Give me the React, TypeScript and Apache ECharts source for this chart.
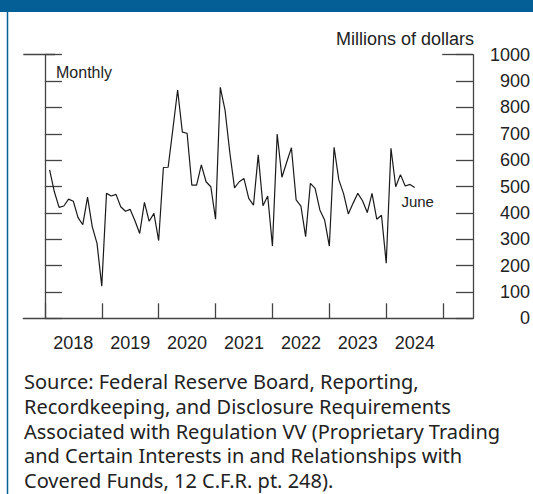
import React, { useEffect, useRef } from "react";
import * as echarts from "echarts";

// Year labels (ticks at year starts, labels at mid-year)
const years = ["2018", "2019", "2020", "2021", "2022", "2023", "2024"];
// Monthly values, millions of dollars
const v2018 = [563, 480, 421, 426, 452, 444, 382, 355, 460, 347, 284, 122];
const v2019 = [474, 464, 470, 423, 406, 413, 370, 322, 440, 368, 398, 295];
const v2020 = [572, 573, 718, 866, 706, 702, 505, 505, 582, 518, 499, 376];
const v2021 = [876, 790, 630, 495, 518, 530, 455, 429, 620, 427, 464, 274];
const v2022 = [699, 535, 592, 647, 449, 426, 310, 512, 493, 411, 373, 274];
const v2023 = [649, 525, 473, 396, 436, 474, 446, 401, 474, 376, 391, 209];
const v2024 = [645, 499, 545, 502, 508, 496];
const lastLabel = "June";
const yTicks = [0, 100, 200, 300, 400, 500, 600, 700, 800, 900, 1000];
const sourceLines = [
  "Source: Federal Reserve Board, Reporting,",
  "Recordkeeping, and Disclosure Requirements",
  "Associated with Regulation VV (Proprietary Trading",
  "and Certain Interests in and Relationships with",
  "Covered Funds, 12 C.F.R. pt. 248).",
];

const FONT = "'Liberation Sans', Arial, sans-serif";
const SRC_FONT = "'Noto Sans', 'Open Sans', sans-serif";
const INK = "#222222";
const AXIS = "#444444";
const BLUE = "#045f96";

export default function App() {
  const ref = useRef<HTMLDivElement>(null);
  useEffect(() => {
    document.body.style.margin = "0";
    if (!ref.current) return;
    const chart = echarts.init(ref.current, null, { renderer: "svg" });
    const all = [...v2018, ...v2019, ...v2020, ...v2021, ...v2022, ...v2023, ...v2024];
    // x in months since Jan 2018; each monthly value plotted at month end
    const data = all.map((v, i) => [i + 1, v]);
    const last = data[data.length - 1];
    const xMin = -4.55;
    const xMax = 90.3;
    const yearStarts = years.map((_, i) => i * 12).concat([years.length * 12]);
    const yearMids = years.map((_, i) => i * 12 + 6);
    const yMax = yTicks[yTicks.length - 1];

    const yAxisBase = {
      type: "value",
      min: yTicks[0],
      max: yMax,
      interval: 100,
      axisLine: { show: true, lineStyle: { color: AXIS, width: 1.3 } },
      axisTick: { show: true, inside: true, length: 17, lineStyle: { color: AXIS, width: 1.3 } },
      splitLine: { show: false },
    };

    chart.setOption({
      animation: false,
      grid: { left: 23.3, right: 57.3, top: 54.7, bottom: 175.7, containLabel: false },
      xAxis: {
        type: "value",
        min: xMin,
        max: xMax,
        axisLine: { show: true, onZero: false, lineStyle: { color: AXIS, width: 1.3 } },
        axisTick: {
          show: true,
          inside: true,
          length: 15,
          customValues: yearStarts,
          lineStyle: { color: AXIS, width: 1.3 },
        },
        axisLabel: {
          show: true,
          customValues: yearMids,
          margin: 16,
          fontFamily: FONT,
          fontSize: 18,
          color: INK,
          formatter: (v: number) => years[Math.round((v - 6) / 12)] ?? "",
        },
        splitLine: { show: false },
      },
      yAxis: [
        { ...yAxisBase, position: "left", axisLabel: { show: false } },
        {
          ...yAxisBase,
          position: "right",
          axisLabel: {
            show: true,
            align: "right",
            margin: 57,
            fontFamily: FONT,
            fontSize: 18,
            color: INK,
            formatter: (v: number) => String(v),
          },
        },
      ],
      series: [
        {
          type: "line",
          data,
          showSymbol: false,
          symbol: "none",
          lineStyle: { color: "#1a1a1a", width: 1.2 },
          markPoint: {
            silent: true,
            data: [
              {
                coord: last,
                symbol: "circle",
                symbolSize: 0,
                label: {
                  show: true,
                  position: "bottom",
                  distance: 6,
                  offset: [3, 0],
                  formatter: lastLabel,
                  fontFamily: FONT,
                  fontSize: 15,
                  color: INK,
                },
              },
            ],
          },
          markLine: {
            silent: true,
            symbol: "none",
            label: { show: false },
            lineStyle: { color: AXIS, width: 1.3, type: "solid" },
            data: [
              [{ coord: [xMin, yMax] }, { coord: [2.15, yMax] }],
              [{ coord: [83.8, yMax] }, { coord: [xMax, yMax] }],
            ],
          },
        },
      ],
      graphic: [
        { type: "rect", shape: { x: 0, y: 0, width: 533, height: 12 }, style: { fill: BLUE } },
        { type: "line", shape: { x1: 7.5, y1: 12, x2: 7.5, y2: 494 }, style: { stroke: BLUE, lineWidth: 1.5 } },
        {
          type: "text",
          x: 474,
          y: 39,
          style: {
            text: "Millions of dollars",
            align: "right",
            verticalAlign: "middle",
            font: `18px ${FONT}`,
            fill: INK,
          },
        },
        {
          type: "text",
          x: 56,
          y: 72,
          style: { text: "Monthly", align: "left", verticalAlign: "middle", font: `16px ${FONT}`, fill: INK },
        },
        {
          type: "text",
          x: 24,
          y: 369.5,
          style: {
            text: sourceLines.join("\n"),
            align: "left",
            verticalAlign: "top",
            font: `20px ${SRC_FONT}`,
            lineHeight: 24.7,
            fill: INK,
          },
        },
      ],
    });
    return () => chart.dispose();
  }, []);
  return <div ref={ref} style={{ width: 533, height: 494 }} />;
}
